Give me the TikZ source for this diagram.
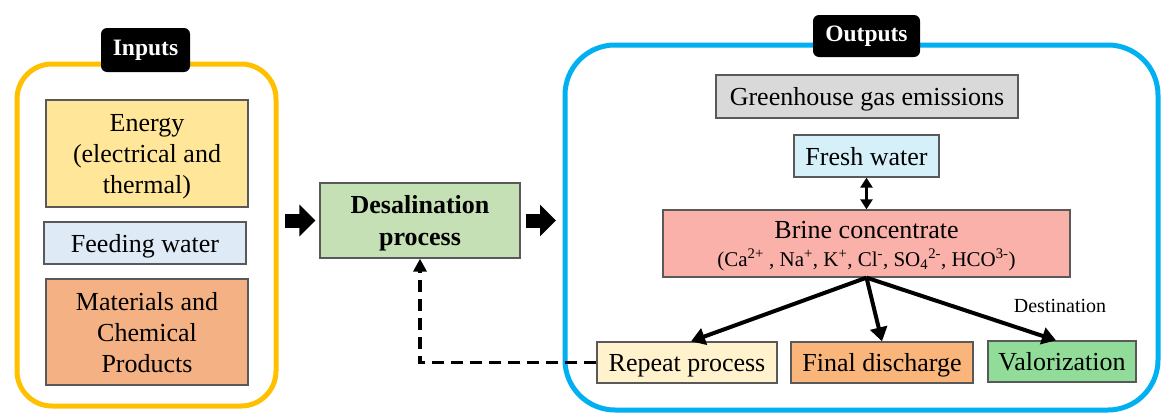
\documentclass[tikz,border=0pt]{standalone}
\usepackage{fontspec}
\setmainfont{Liberation Serif}
\usetikzlibrary{arrows.meta}
\definecolor{inorange}{HTML}{FFC000}
\definecolor{outblue}{HTML}{00B0F0}
\definecolor{cEnergy}{HTML}{FFE699}
\definecolor{cFeed}{HTML}{DEEBF7}
\definecolor{cMat}{HTML}{F4B183}
\definecolor{cDesal}{HTML}{C5E0B4}
\definecolor{cGhg}{HTML}{D9D9D9}
\definecolor{cFresh}{HTML}{D6F0FA}
\definecolor{cBrine}{HTML}{F9B1A9}
\definecolor{cRepeat}{HTML}{FFF2CC}
\definecolor{cFinal}{HTML}{FAB57A}
\definecolor{cValor}{HTML}{90DC98}
\definecolor{edgegray}{HTML}{595959}
\tikzset{
  box/.style={draw=edgegray, line width=1.3pt, inner sep=0pt, align=center,
    text depth=0pt, font=\fontsize{26}{31}\selectfont},
  tag/.style={fill=black, rounded corners=6pt, inner sep=0pt, text=white,
    font=\fontsize{23.5}{28}\selectfont\bfseries},
  group/.style={line width=5pt, rounded corners=#1},
  blockarrow/.style={line width=14pt, -{Triangle[length=16pt,width=31pt]}},
  branch/.style={line width=4pt, -{Triangle[length=14pt,width=17pt]}},
  dbl/.style={line width=3pt, {Triangle[length=10pt,width=12pt]}-{Triangle[length=10pt,width=12pt]}},
  back/.style={line width=3.5pt, dash pattern=on 12pt off 7pt, -{Triangle[length=13pt,width=13pt]}},
}
\begin{document}
\begin{tikzpicture}[x=1pt,y=-1pt]
\useasboundingbox (0,0) rectangle (1163,415);
% group frames
\draw[group=35pt, draw=inorange] (17,64) rectangle (276,406);
\draw[group=50pt, draw=outblue] (565,45) rectangle (1158,410);
\coordinate (inedge) at (276,220.5);
\coordinate (outedge) at (565,220.5);
% labels
\node[tag, minimum width=89pt, minimum height=44pt] (inlabel) at (145.5,50) {Inputs};
\node[tag, minimum width=107pt, minimum height=42pt] (outlabel) at (866.5,36) {Outputs};
% inputs
\node[box, fill=cEnergy, minimum width=202pt, minimum height=107pt] (energy) at (147,153.5) {Energy\\(electrical and\\thermal)};
\node[box, fill=cFeed, minimum width=202pt, minimum height=42pt] (feed) at (145,243) {Feeding water};
\node[box, fill=cMat, minimum width=202pt, minimum height=106pt] (mat) at (147,332) {Materials and\\Chemical\\Products};
% process
\node[box, fill=cDesal, minimum width=200pt, minimum height=75pt, font=\fontsize{26}{32}\selectfont\bfseries] (desal) at (420,220.5) {Desalination\\process};
% outputs
\node[box, fill=cGhg, minimum width=302pt, minimum height=43pt] (ghg) at (867,96.5) {Greenhouse gas emissions};
\node[box, fill=cFresh, minimum width=145pt, minimum height=42pt] (fresh) at (866.5,156) {Fresh water};
\node[box, fill=cBrine, minimum width=407pt, minimum height=67pt] (brine) at (866.5,243.5)
  {Brine concentrate\\[-3pt]{\fontsize{21}{25}\selectfont (Ca\textsuperscript{2+} , Na\textsuperscript{+}, K\textsuperscript{+}, Cl\textsuperscript{-}, SO\textsubscript{4}\textsuperscript{2-}, HCO\textsuperscript{3-})}};
\node[box, fill=cRepeat, minimum width=180pt, minimum height=41pt] (repeat) at (687,362.5) {Repeat process};
\node[box, fill=cFinal, minimum width=182pt, minimum height=41pt] (final) at (882,362.5) {Final discharge};
\node[box, fill=cValor, minimum width=148pt, minimum height=41pt] (valor) at (1062,361.5) {Valorization};
\node[font=\fontsize{20}{24}\selectfont, inner sep=0pt] (dest) at (1060,306) {Destination};
% connectors
\draw[blockarrow] ([xshift=9pt]inedge) -- ([xshift=-4pt]desal.west);
\draw[blockarrow] ([xshift=5pt]desal.east) -- ([xshift=-9pt]outedge);
\draw[dbl] (fresh.south) -- (brine.north);
\draw[branch] (brine.south) -- ([xshift=4pt]repeat.north);
\draw[branch] (brine.south) -- (final.north);
\draw[branch] (brine.south) -- ([xshift=-6pt]valor.north);
\draw[back] (repeat.west) -| (desal.south);
\end{tikzpicture}
\end{document}
